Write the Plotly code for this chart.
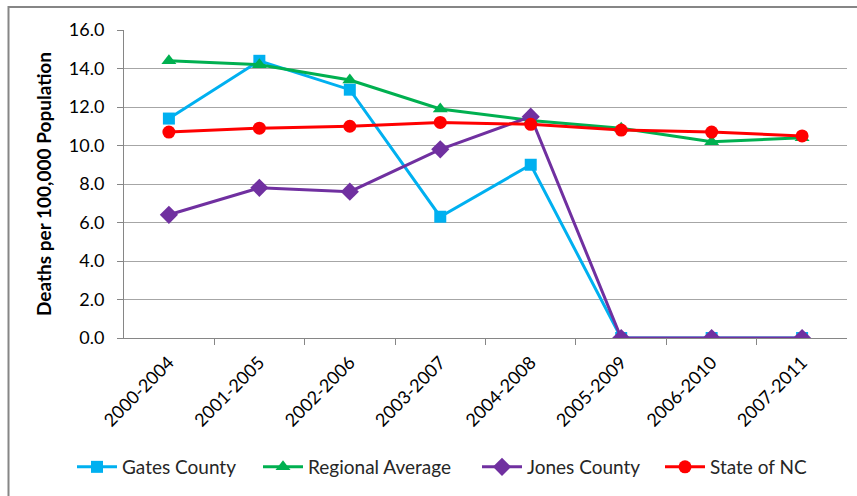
import plotly.graph_objects as go

periods = ["2000-2004", "2001-2005", "2002-2006", "2003-2007",
           "2004-2008", "2005-2009", "2006-2010", "2007-2011"]
gates_county = [11.4, 14.4, 12.9, 6.3, 9.0, 0.0, 0.0, 0.0]
regional_avg = [14.4, 14.2, 13.4, 11.9, 11.3, 10.9, 10.2, 10.4]
jones_county = [6.4, 7.8, 7.6, 9.8, 11.5, 0.0, 0.0, 0.0]
state_nc = [10.7, 10.9, 11.0, 11.2, 11.1, 10.8, 10.7, 10.5]
y_ticks = [0, 2, 4, 6, 8, 10, 12, 14, 16]

FONT = "Lato, 'Open Sans', sans-serif"

W, H = 857, 496
L, R, T, B = 124, 10, 30, 158
pw, ph = W - L - R, H - T - B

# name, values, colour, marker symbol, marker size, legend key start (px)
series = [
    ("Gates County", gates_county, "#00B0F0", "square", 12, 77),
    ("Regional Average", regional_avg, "#00B050", "triangle-up", 13, 263),
    ("Jones County", jones_county, "#7030A0", "diamond", 14, 482),
    ("State of NC", state_nc, "#FF0000", "circle", 13, 665),
]

fig = go.Figure()
legends = {}
for i, (name, vals, color, symbol, size, key_x) in enumerate(series):
    lg = "legend" if i == 0 else f"legend{i + 1}"
    fig.add_trace(go.Scatter(
        x=periods, y=vals, name=name, mode="lines+markers",
        line=dict(color=color, width=3),
        marker=dict(symbol=symbol, size=size, color=color),
        legend=lg,
    ))
    legends[lg] = dict(
        orientation="h", xanchor="left", x=(key_x - 5 - L) / pw,
        y=(H - B - 467) / ph, yanchor="middle",
        font=dict(size=19, color="#262626"), itemwidth=40,
        bgcolor="rgba(0,0,0,0)",
    )

# outer chart frame (top and left edges visible)
fig.add_shape(type="rect", xref="paper", yref="paper",
              x0=(8.5 - L) / pw, x1=1.5,
              y0=-1.0, y1=(H - B - 7) / ph,
              line=dict(color="#868686", width=2), fillcolor="rgba(0,0,0,0)",
              layer="below")

fig.update_layout(
    width=W, height=H,
    margin=dict(l=L, r=R, t=T, b=B),
    paper_bgcolor="white", plot_bgcolor="white",
    font=dict(family=FONT, size=18, color="#000000"),
    showlegend=True,
    xaxis=dict(
        type="category", tickangle=-45, tickson="boundaries",
        ticks="outside", ticklen=6, tickcolor="#868686",
        showline=True, linecolor="#868686", linewidth=1,
        showgrid=False, tickfont=dict(size=18), ticklabelstandoff=6,
    ),
    yaxis=dict(
        range=[0, 16], tickvals=y_ticks, tickformat=".1f",
        ticks="outside", ticklen=6, tickcolor="#868686",
        showline=True, linecolor="#868686", linewidth=1,
        showgrid=True, gridcolor="#A6A6A6", gridwidth=1,
        zeroline=False, tickfont=dict(size=18), ticklabelstandoff=9,
        title=dict(text="<b>Deaths per 100,000 Population</b>",
                   font=dict(size=19), standoff=12),
    ),
    **legends,
)

fig.write_html("out.html")
